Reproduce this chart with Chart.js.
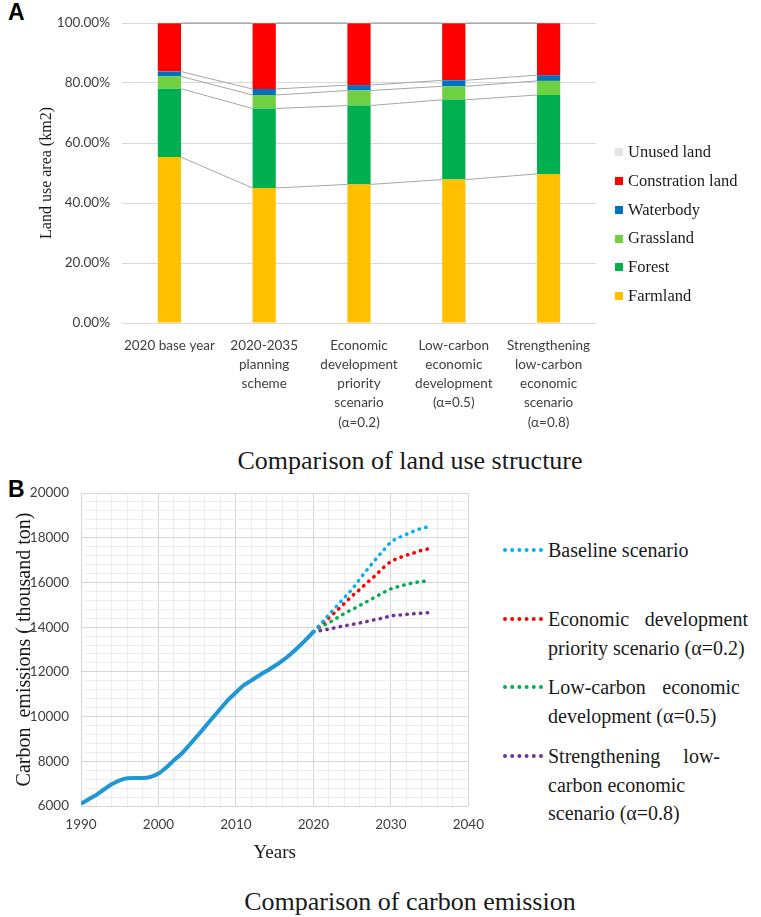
<!DOCTYPE html>
<html>
<head>
<meta charset="utf-8">
<script src="https://cdn.jsdelivr.net/npm/chart.js@4.4.1/dist/chart.umd.min.js"></script>
<style>
  body { margin: 0; background: #fff; }
  #page { position: relative; width: 761px; height: 917px; overflow: hidden; font-family: 'Liberation Serif', 'Times New Roman', serif; color: #1a1a1a; }
  .tag { position: absolute; left: 8px; font: bold 23px/23px 'Liberation Sans', Arial, sans-serif; color: #000; }
  .box { position: absolute; }
  .caption { position: absolute; left: 0; width: 820px; text-align: center; font-size: 26px; line-height: 30px; }
  #landLegend { position: absolute; left: 615px; top: 138px; font-size: 16.5px; }
  #landLegend div { height: 28.8px; line-height: 28.8px; white-space: nowrap; }
  #landLegend span { display: inline-block; width: 8px; height: 8px; margin-right: 5px; vertical-align: middle; position: relative; top: -1px; }
  .sc { position: absolute; left: 548px; width: 200px; font-size: 20px; line-height: 28.5px; white-space: nowrap; }
  .sc .j { text-align: justify; text-align-last: justify; }
  .sample { position: absolute; left: 503px; width: 40px; height: 0; border-top: 4px dotted; }
</style>
</head>
<body>
<div id="page">
  <div class="tag" style="top:1px">A</div>
  <div class="box" style="left:0;top:0;width:620px;height:440px"><canvas id="landChart"></canvas></div>
  <div id="landLegend"></div>
  <div class="caption" style="top:446px">Comparison of land use structure</div>

  <div class="tag" style="top:478px">B</div>
  <div class="box" style="left:0;top:470px;width:495px;height:400px"><canvas id="emissionChart"></canvas></div>

  <div class="sample" style="top:548px;border-color:#00b0f0"></div>
  <div class="sc" style="top:536px">Baseline scenario</div>
  <div class="sample" style="top:617px;border-color:#ff0000"></div>
  <div class="sc" style="top:605px"><div class="j">Economic development</div><div>priority scenario (α=0.2)</div></div>
  <div class="sample" style="top:685px;border-color:#00b050"></div>
  <div class="sc" style="top:673px"><div class="j" style="width:192px">Low-carbon economic</div><div>development (α=0.5)</div></div>
  <div class="sample" style="top:754px;border-color:#7030a0"></div>
  <div class="sc" style="top:742px"><div class="j" style="width:172px">Strengthening low-</div><div>carbon economic</div><div>scenario (α=0.8)</div></div>

  <div class="caption" style="top:887px">Comparison of carbon emission</div>
</div>

<script>
// Land use structure (share of total area, %)
const landLabels = [
  '2020 base year',
  ['2020-2035', 'planning', 'scheme'],
  ['Economic', 'development', 'priority', 'scenario', '(α=0.2)'],
  ['Low-carbon', 'economic', 'development', '(α=0.5)'],
  ['Strengthening', 'low-carbon', 'economic', 'scenario', '(α=0.8)']
];
const farmland     = [55.3, 45.0, 46.2, 47.8, 49.7];
const forest       = [22.8, 26.5, 26.3, 26.6, 26.3];
const grassland    = [4.1, 4.5, 5.0, 4.5, 4.7];
const waterbody    = [1.6, 2.0, 1.8, 2.0, 1.9];
const construction = [16.1, 21.9, 20.6, 19.0, 17.3];
const unusedLand   = [0.1, 0.1, 0.1, 0.1, 0.1];

// Carbon emissions (thousand ton)
const histYears = [1990, 1991, 1992, 1993, 1994, 1995, 1996, 1997, 1998, 1999, 2000,
  2001, 2002, 2003, 2004, 2005, 2006, 2007, 2008, 2009, 2010,
  2011, 2012, 2013, 2014, 2015, 2016, 2017, 2018, 2019, 2020];
const histEmissions = [6100, 6300, 6500, 6750, 6980, 7150, 7240, 7250, 7250, 7300, 7450,
  7720, 8050, 8350, 8730, 9130, 9540, 9950, 10350, 10750, 11080,
  11400, 11620, 11840, 12050, 12260, 12500, 12780, 13090, 13430, 13790];
const scenarioYears = [2020, 2021, 2022, 2023, 2024, 2025, 2026, 2027, 2028, 2029, 2030, 2031, 2032, 2033, 2034, 2035];
const baselineScenario = [13790, 14170, 14560, 14940, 15320, 15700, 16150, 16600, 17020, 17420, 17800, 18000, 18150, 18300, 18420, 18500];
const economicPriority = [13790, 14120, 14420, 14730, 15060, 15400, 15690, 16010, 16310, 16650, 16930, 17090, 17220, 17320, 17440, 17510];
const lowCarbon        = [13790, 14030, 14200, 14400, 14610, 14790, 14970, 15160, 15350, 15540, 15710, 15820, 15910, 15990, 16040, 16090];
const strengthening    = [13780, 13850, 13910, 13990, 14060, 14120, 14190, 14260, 14340, 14410, 14500, 14540, 14570, 14600, 14630, 14650];

const tickFont = { family: 'Lato', size: 13.5 };
const serif = 'Liberation Serif';

// grey "series lines" joining the segment tops of neighbouring bars
const seriesLines = {
  id: 'seriesLines',
  afterDatasetsDraw(chart) {
    const ctx = chart.ctx;
    ctx.save();
    ctx.strokeStyle = '#a6a6a6';
    ctx.lineWidth = 1;
    chart.data.datasets.forEach((ds, d) => {
      const bars = chart.getDatasetMeta(d).data;
      for (let i = 0; i < bars.length - 1; i++) {
        const a = bars[i], b = bars[i + 1];
        ctx.beginPath();
        ctx.moveTo(a.x + a.width / 2, a.y);
        ctx.lineTo(b.x - b.width / 2, b.y);
        ctx.stroke();
      }
    });
    ctx.restore();
  }
};

const landSets = [
  { label: 'Farmland', data: farmland, backgroundColor: '#ffc000' },
  { label: 'Forest', data: forest, backgroundColor: '#00b050' },
  { label: 'Grassland', data: grassland, backgroundColor: '#6fd041' },
  { label: 'Waterbody', data: waterbody, backgroundColor: '#0070c0' },
  { label: 'Constration land', data: construction, backgroundColor: '#ff0000' },
  { label: 'Unused land', data: unusedLand, backgroundColor: '#e3e3e3' }
];

// legend, top entry first like the original
const legendEl = document.getElementById('landLegend');
landSets.slice().reverse().forEach(s => {
  const row = document.createElement('div');
  row.innerHTML = '<span style="background:' + s.backgroundColor + '"></span>' + s.label;
  legendEl.appendChild(row);
});

new Chart(document.getElementById('landChart'), {
  type: 'bar',
  data: {
    labels: landLabels,
    datasets: landSets.map(s => Object.assign({ categoryPercentage: 1, barPercentage: 0.245 }, s))
  },
  options: {
    responsive: true,
    maintainAspectRatio: false,
    animation: false,
    layout: { padding: { left: 0, right: 24, top: 23, bottom: 0 } },
    plugins: { legend: { display: false }, tooltip: { enabled: false } },
    scales: {
      x: {
        stacked: true,
        grid: { display: false },
        border: { display: false },
        ticks: { font: Object.assign({ lineHeight: 1.42 }, tickFont), color: '#404040', padding: 5, maxRotation: 0, autoSkip: false },
        afterFit: s => { s.height = 117; }
      },
      y: {
        stacked: true,
        min: 0,
        max: 100,
        grid: { color: '#d9d9d9', drawTicks: false },
        border: { display: false },
        ticks: { stepSize: 20, font: tickFont, color: '#404040', padding: 12, callback: v => v.toFixed(2) + '%' },
        title: { display: true, text: 'Land use area (km2)', font: { family: serif, size: 16 }, color: '#1a1a1a', padding: { top: 37, bottom: 0 } },
        afterFit: s => { s.width = 122; }
      }
    }
  },
  plugins: [seriesLines]
});

const pts = (xs, ys) => xs.map((x, i) => ({ x: x, y: ys[i] }));
const dotted = (data, color) => ({
  data: data,
  borderColor: color,
  borderWidth: 3.5,
  borderDash: [0.5, 6.3],
  borderCapStyle: 'round',
  pointRadius: 0,
  cubicInterpolationMode: 'monotone'
});
const gridColor = c => (c.tick && c.tick.value % (c.scale.axis === 'x' ? 10 : 2000) === 0) ? '#d6d6d6' : '#ededed';

new Chart(document.getElementById('emissionChart'), {
  type: 'line',
  data: {
    datasets: [
      { data: pts(histYears, histEmissions), borderColor: '#1f96d5', borderWidth: 4, pointRadius: 0, cubicInterpolationMode: 'monotone' },
      dotted(pts(scenarioYears, baselineScenario), '#00b0f0'),
      dotted(pts(scenarioYears, economicPriority), '#ff0000'),
      dotted(pts(scenarioYears, lowCarbon), '#00b050'),
      dotted(pts(scenarioYears, strengthening), '#7030a0')
    ]
  },
  options: {
    responsive: true,
    maintainAspectRatio: false,
    animation: false,
    layout: { padding: { left: 0, right: 19, top: 23, bottom: 0 } },
    plugins: { legend: { display: false }, tooltip: { enabled: false } },
    scales: {
      x: {
        type: 'linear',
        min: 1990,
        max: 2040,
        grid: { color: gridColor, drawTicks: false },
        border: { display: false },
        ticks: { stepSize: 2, autoSkip: false, maxRotation: 0, font: tickFont, color: '#404040', padding: 11, callback: v => v % 10 === 0 ? v : '' },
        title: { display: true, text: 'Years', font: { family: serif, size: 19 }, color: '#1a1a1a', padding: { top: 0, bottom: 6 } },
        afterFit: s => { s.height = 64; }
      },
      y: {
        min: 6000,
        max: 20000,
        grid: { color: gridColor, drawTicks: false },
        border: { display: false },
        ticks: { stepSize: 400, autoSkip: false, font: tickFont, color: '#404040', padding: 12, callback: v => v % 2000 === 0 ? v : '' },
        title: { display: true, text: 'Carbon  emissions ( thousand ton)', font: { family: serif, size: 20 }, color: '#1a1a1a', padding: { top: 13, bottom: 0 } },
        afterFit: s => { s.width = 81; }
      }
    }
  }
});
</script>
</body>
</html>
